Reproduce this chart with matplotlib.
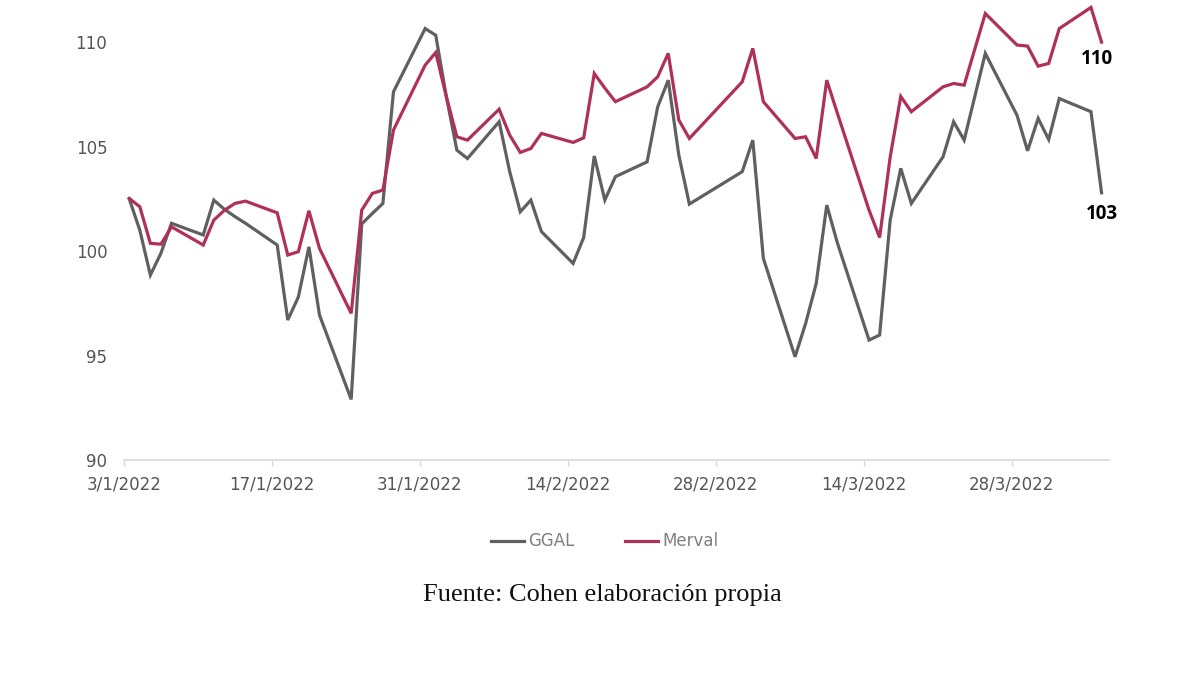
import matplotlib
matplotlib.use("Agg")
import matplotlib.pyplot as plt
import pandas as pd

dates = [
    "2022-01-03", "2022-01-04", "2022-01-05", "2022-01-06", "2022-01-07",
    "2022-01-10", "2022-01-11", "2022-01-12", "2022-01-13", "2022-01-14",
    "2022-01-17", "2022-01-18", "2022-01-19", "2022-01-20", "2022-01-21",
    "2022-01-24", "2022-01-25", "2022-01-26", "2022-01-27", "2022-01-28",
    "2022-01-31", "2022-02-01", "2022-02-02", "2022-02-03", "2022-02-04",
    "2022-02-07", "2022-02-08", "2022-02-09", "2022-02-10", "2022-02-11",
    "2022-02-14", "2022-02-15", "2022-02-16", "2022-02-17", "2022-02-18",
    "2022-02-21", "2022-02-22", "2022-02-23", "2022-02-24", "2022-02-25",
    "2022-03-02", "2022-03-03", "2022-03-04",
    "2022-03-07", "2022-03-08", "2022-03-09", "2022-03-10", "2022-03-11",
    "2022-03-14", "2022-03-15", "2022-03-16", "2022-03-17", "2022-03-18",
    "2022-03-21", "2022-03-22", "2022-03-23", "2022-03-25",
    "2022-03-28", "2022-03-29", "2022-03-30", "2022-03-31", "2022-04-01",
    "2022-04-04", "2022-04-05",
]

ggal = [
    102.5, 101.0, 98.85, 99.9, 101.33,
    100.77, 102.44, 102.0, 101.65, 101.33,
    100.29, 96.7, 97.8, 100.2, 96.94,
    92.9, 101.3, 101.8, 102.28, 107.62,
    110.65, 110.33, 107.4, 104.83, 104.43,
    106.19, 103.8, 101.88, 102.44, 100.93,
    99.41, 100.65, 104.55, 102.44, 103.56,
    104.27, 106.9, 108.18, 104.59, 102.25,
    103.8, 105.31, 99.65,
    94.94, 96.54, 98.45, 102.2, 100.4,
    95.74, 95.98, 101.48, 103.96, 102.28,
    104.51, 106.19, 105.31, 109.46,
    106.5, 104.8, 106.35, 105.34, 107.3,
    106.67, 102.79,
]

merval = [
    102.52, 102.12, 100.37, 100.33, 101.16,
    100.29, 101.48, 101.95, 102.28, 102.39,
    101.83, 99.81, 99.97, 101.93, 100.13,
    97.02, 101.96, 102.76, 102.92, 105.79,
    108.9, 109.5, 107.4, 105.47, 105.31,
    106.79, 105.55, 104.72, 104.91, 105.63,
    105.2, 105.42, 108.5, 107.8, 107.15,
    107.86, 108.34, 109.46, 106.27, 105.39,
    108.1, 109.7, 107.15,
    105.39, 105.47, 104.43, 108.18, 106.6,
    101.96, 100.65, 104.5, 107.4, 106.67,
    107.86, 108.02, 107.94, 111.37,
    109.86, 109.81, 108.85, 108.98, 110.65,
    111.66, 110.0,
]

tick_dates = ["2022-01-03", "2022-01-17", "2022-01-31", "2022-02-14",
              "2022-02-28", "2022-03-14", "2022-03-28"]
tick_labels = ["3/1/2022", "17/1/2022", "31/1/2022", "14/2/2022",
               "28/2/2022", "14/3/2022", "28/3/2022"]
y_ticks = [90, 95, 100, 105, 110]
series_names = ["GGAL", "Merval"]
source_text = "Fuente: Cohen elaboración propia"

GREY = "#606060"
RED = "#b0305c"
TICK_COLOR = "#555555"

# points sit in the middle of each day (date axis, between tick marks)
x = pd.to_datetime(dates) + pd.Timedelta(hours=12)

fig = plt.figure(figsize=(12, 6.75), dpi=100)
ax = fig.add_axes([0.1033, 0.3185, 0.8209, 0.681])

l1, = ax.plot(x, ggal, color=GREY, lw=2.3, solid_joinstyle="miter", label=series_names[0], clip_on=False)
l2, = ax.plot(x, merval, color=RED, lw=2.3, solid_joinstyle="miter", label=series_names[1], clip_on=False)

ax.set_ylim(90, 112)
ax.set_yticks(y_ticks)
ax.set_xlim(pd.Timestamp("2022-01-03"), pd.Timestamp("2022-04-06 05:00"))
ax.set_xticks(pd.to_datetime(tick_dates))
ax.set_xticklabels(tick_labels)

for s in ["top", "right", "left"]:
    ax.spines[s].set_visible(False)
ax.spines["bottom"].set_color("#d9d9d9")
ax.spines["bottom"].set_linewidth(1.2)

ax.tick_params(axis="x", length=4, width=1, color="#d9d9d9", pad=7,
               labelsize=12, labelcolor=TICK_COLOR)
ax.tick_params(axis="y", length=0, pad=12, labelsize=12, labelcolor=TICK_COLOR)
for lab in ax.get_xticklabels() + ax.get_yticklabels():
    lab.set_fontfamily("DejaVu Sans")

# end labels
ax.annotate(f"{round(merval[-1])}", xy=(x[-1], merval[-1]), xytext=(-3, -12),
            textcoords="offset points", ha="center", va="center",
            fontsize=13.5, fontweight="bold", color="black", fontfamily="Open Sans")
ax.annotate(f"{round(ggal[-1])}", xy=(x[-1], ggal[-1]), xytext=(0, -15),
            textcoords="offset points", ha="center", va="center",
            fontsize=13.5, fontweight="bold", color="black", fontfamily="Open Sans")

leg = fig.legend(handles=[l1, l2], loc="center", bbox_to_anchor=(0.504, 0.198),
                 ncol=2, frameon=False, handlelength=2.0, handletextpad=0.25,
                 columnspacing=3.0, prop={"family": "DejaVu Sans", "size": 12})
for t in leg.get_texts():
    t.set_color("#7f7f7f")

fig.text(0.502, 0.118, source_text, ha="center", va="center",
         fontsize=19, fontfamily="Liberation Serif", color="#111111")

fig.savefig("out.png", dpi=100, facecolor="white")
